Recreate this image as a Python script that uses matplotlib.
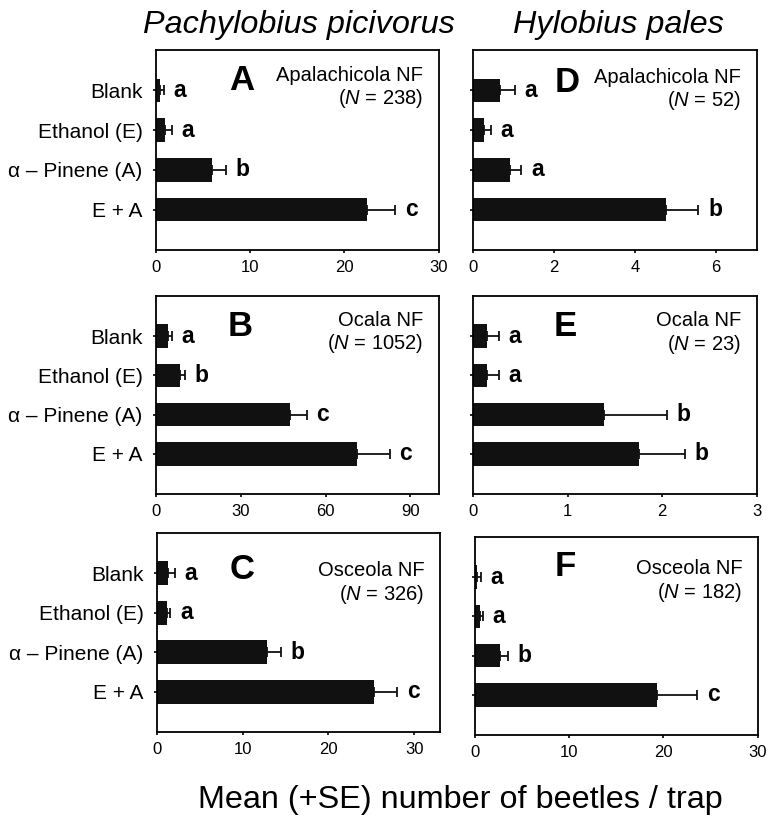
'''
Mean (+SE) number of beetles per trap, 6 panels
'''

import matplotlib
matplotlib.use('Agg')
from matplotlib import pyplot as plt

plt.rcParams['font.family'] = ['Liberation Sans', 'DejaVu Sans']
plt.rcParams['mathtext.fontset'] = 'custom'
plt.rcParams['mathtext.rm'] = 'Liberation Sans'
plt.rcParams['mathtext.it'] = 'Liberation Sans:italic'

treatments = ['Blank', 'Ethanol (E)', 'α – Pinene (A)', 'E + A']

# Pachylobius picivorus
pp_apal_mean = [0.5, 0.95, 6.0, 22.4]
pp_apal_se = [0.35, 0.75, 1.45, 3.0]
pp_apal_letters = ['a', 'a', 'b', 'c']

pp_ocala_mean = [4.2, 8.6, 47.6, 71.2]
pp_ocala_se = [1.4, 1.6, 5.7, 11.5]
pp_ocala_letters = ['a', 'b', 'c', 'c']

pp_osceola_mean = [1.36, 1.23, 12.8, 25.3]
pp_osceola_se = [0.74, 0.37, 1.7, 2.7]
pp_osceola_letters = ['a', 'a', 'b', 'c']

# Hylobius pales
hp_apal_mean = [0.66, 0.26, 0.9, 4.76]
hp_apal_se = [0.36, 0.18, 0.29, 0.8]
hp_apal_letters = ['a', 'a', 'a', 'b']

hp_ocala_mean = [0.14, 0.14, 1.38, 1.75]
hp_ocala_se = [0.13, 0.13, 0.67, 0.49]
hp_ocala_letters = ['a', 'a', 'b', 'b']

hp_osceola_mean = [0.25, 0.53, 2.65, 19.3]
hp_osceola_se = [0.35, 0.27, 0.81, 4.3]
hp_osceola_letters = ['a', 'a', 'b', 'c']

W, H = 768, 825


def px_axes(fig, left, right, top, bottom):
    # position given in pixels of the picture
    return fig.add_axes([left / W, 1 - bottom / H, (right - left) / W, (bottom - top) / H])


def draw_panel(ax, mean, se, letters, xmax, xticks, panel, site, n,
               show_labels, letter_pos, site_y):
    y = list(range(len(mean)))
    ax.barh(y, mean, height=0.6, color='#111111', zorder=2)
    ax.errorbar(mean, y, xerr=[[0] * len(se), se], fmt='none', ecolor='#111111',
                elinewidth=1.3, capsize=3.5, capthick=1.3, zorder=3)
    for yi, m, s, l in zip(y, mean, se, letters):
        ax.annotate(l, (m + s, yi), xytext=(7, 0), textcoords='offset points',
                    ha='left', va='center', fontsize=16.5, fontweight='bold')
    ax.set_xlim(0, xmax)
    ax.set_ylim(4.02, -1.02)
    ax.set_xticks(xticks)
    ax.set_xticklabels([str(t) for t in xticks])
    ax.set_yticks(y)
    if show_labels:
        ax.set_yticklabels(treatments, fontsize=15)
    else:
        ax.set_yticklabels([])
    ax.tick_params(axis='x', length=2.5, width=1.2, pad=5, labelsize=12)
    ax.tick_params(axis='y', length=2.5, width=1.2, pad=7)
    for sp in ax.spines.values():
        sp.set_linewidth(1.3)
    ax.text(letter_pos[0], letter_pos[1], panel, transform=ax.transAxes,
            fontsize=25, fontweight='bold', ha='center', va='center')
    ax.text(0.945, site_y, site + '\n($\\mathit{N}$ = ' + n + ')', transform=ax.transAxes,
            fontsize=14.5, ha='right', va='center', multialignment='right', linespacing=1.15)


def create_figure():
    fig = plt.figure(figsize=(W / 100, H / 100), dpi=100)

    axA = px_axes(fig, 155.7, 438.7, 50, 250)
    axB = px_axes(fig, 155.7, 438.7, 296, 494)
    axC = px_axes(fig, 156.7, 440, 533, 732)
    axD = px_axes(fig, 473.3, 756.7, 50, 250)
    axE = px_axes(fig, 473.3, 756.7, 296, 494)
    axF = px_axes(fig, 475, 757.7, 537, 735)

    draw_panel(axA, pp_apal_mean, pp_apal_se, pp_apal_letters, 30, [0, 10, 20, 30],
               'A', 'Apalachicola NF', '238', True, (0.305, 0.85), 0.81)
    draw_panel(axB, pp_ocala_mean, pp_ocala_se, pp_ocala_letters, 100, [0, 30, 60, 90],
               'B', 'Ocala NF', '1052', True, (0.30, 0.845), 0.813)
    draw_panel(axC, pp_osceola_mean, pp_osceola_se, pp_osceola_letters, 33, [0, 10, 20, 30],
               'C', 'Osceola NF', '326', True, (0.30, 0.815), 0.745)
    draw_panel(axD, hp_apal_mean, hp_apal_se, hp_apal_letters, 7, [0, 2, 4, 6],
               'D', 'Apalachicola NF', '52', False, (0.33, 0.84), 0.80)
    draw_panel(axE, hp_ocala_mean, hp_ocala_se, hp_ocala_letters, 3, [0, 1, 2, 3],
               'E', 'Ocala NF', '23', False, (0.326, 0.845), 0.81)
    draw_panel(axF, hp_osceola_mean, hp_osceola_se, hp_osceola_letters, 30, [0, 10, 20, 30],
               'F', 'Osceola NF', '182', False, (0.318, 0.85), 0.775)

    fig.text(299 / W, 1 - 25 / H, 'Pachylobius picivorus', fontsize=23.3, style='italic',
             ha='center', va='center')
    fig.text(618 / W, 1 - 25 / H, 'Hylobius pales', fontsize=23.3, style='italic',
             ha='center', va='center')
    fig.text(460 / W, 1 - 800 / H, 'Mean (+SE) number of beetles / trap', fontsize=23.3,
             ha='center', va='center')

    fig.savefig('out.png', dpi=100)


if __name__ == '__main__':
    create_figure()
